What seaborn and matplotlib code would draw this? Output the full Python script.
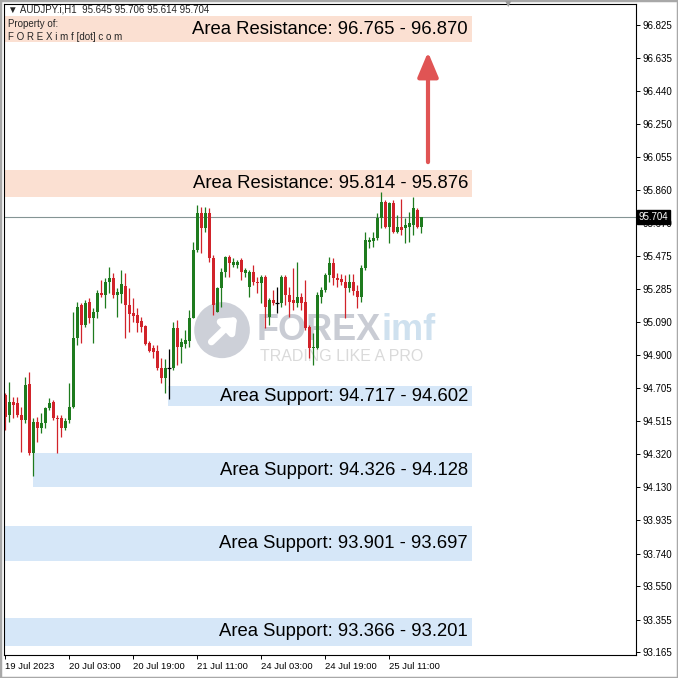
import matplotlib
matplotlib.use("Agg")
import matplotlib.pyplot as plt
import matplotlib.transforms as mtransforms
from matplotlib.patches import Ellipse, Rectangle
import pandas as pd
import seaborn as sns

header = "\u25bc AUDJPY.i,H1  95.645 95.706 95.614 95.704"
last_price = 95.704

# H1 candles, 19 Jul 2023 11:00 -> 25 Jul 2023 19:00
opens = [94.665, 94.549, 94.624, 94.619, 94.549, 94.520, 94.730, 94.327, 94.508, 94.473,
         94.502, 94.590, 94.624, 94.531, 94.531, 94.473, 94.520, 94.595, 94.998, 95.191,
         95.074, 95.208, 95.115, 95.150, 95.261, 95.249, 95.325, 95.348, 95.249, 95.255,
         95.301, 95.191, 95.144, 95.132, 95.097, 95.068, 94.969, 94.940, 94.922, 94.823,
         94.765, 94.823, 94.823, 95.056, 94.946, 94.963, 94.980, 95.115, 95.512, 95.728,
         95.640, 95.728, 95.465, 95.150, 95.290, 95.383, 95.471, 95.424, 95.424, 95.454,
         95.377, 95.296, 95.383, 95.325, 95.319, 95.354, 95.121, 95.220, 95.202, 95.202,
         95.354, 95.249, 95.220, 95.202, 95.237, 95.208, 95.062, 94.940, 94.940, 95.237,
         95.278, 95.366, 95.436, 95.348, 95.343, 95.325, 95.290, 95.325, 95.272, 95.237,
         95.407, 95.558, 95.564, 95.582, 95.699, 95.792, 95.646, 95.786, 95.617, 95.646,
         95.640, 95.646, 95.658, 95.745, 95.645]
highs = [94.677, 94.741, 94.654, 94.654, 94.595, 94.770, 94.800, 94.531, 94.537, 94.560,
         94.595, 94.648, 94.636, 94.549, 94.549, 94.531, 94.735, 95.150, 95.208, 95.202,
         95.220, 95.232, 95.173, 95.278, 95.337, 95.348, 95.412, 95.377, 95.290, 95.395,
         95.377, 95.290, 95.232, 95.173, 95.121, 95.074, 94.980, 94.957, 94.957, 94.881,
         94.875, 94.934, 95.092, 95.103, 94.998, 95.045, 95.162, 95.558, 95.774, 95.763,
         95.763, 95.757, 95.483, 95.296, 95.407, 95.477, 95.483, 95.465, 95.454, 95.465,
         95.407, 95.395, 95.424, 95.354, 95.366, 95.366, 95.232, 95.278, 95.296, 95.366,
         95.366, 95.296, 95.407, 95.442, 95.261, 95.337, 95.074, 95.027, 95.267, 95.296,
         95.377, 95.471, 95.465, 95.377, 95.372, 95.366, 95.372, 95.372, 95.307, 95.424,
         95.617, 95.588, 95.617, 95.728, 95.850, 95.804, 95.792, 95.804, 95.716, 95.810,
         95.699, 95.734, 95.821, 95.757, 95.706]
lows = [94.461, 94.508, 94.531, 94.537, 94.333, 94.502, 94.315, 94.193, 94.391, 94.444,
        94.473, 94.578, 94.520, 94.327, 94.420, 94.461, 94.502, 94.590, 94.957, 94.969,
        95.062, 95.086, 94.969, 95.115, 95.237, 95.173, 95.261, 95.232, 95.121, 95.202,
        94.998, 95.033, 95.092, 95.033, 95.033, 94.957, 94.916, 94.881, 94.811, 94.735,
        94.677, 94.642, 94.811, 94.840, 94.852, 94.940, 94.946, 95.115, 95.500, 95.494,
        95.617, 95.442, 95.132, 95.150, 95.179, 95.354, 95.354, 95.412, 95.407, 95.337,
        95.354, 95.237, 95.307, 95.261, 95.202, 95.056, 95.074, 95.191, 95.144, 95.179,
        95.191, 95.121, 95.162, 95.179, 95.162, 95.045, 94.881, 94.840, 94.934, 95.202,
        95.267, 95.325, 95.307, 95.296, 95.307, 95.115, 95.267, 95.249, 95.173, 95.208,
        95.395, 95.523, 95.529, 95.570, 95.640, 95.640, 95.553, 95.611, 95.611, 95.600,
        95.553, 95.558, 95.600, 95.640, 95.614]
closes = [94.537, 94.624, 94.607, 94.549, 94.520, 94.724, 94.327, 94.508, 94.473, 94.502,
          94.590, 94.619, 94.531, 94.525, 94.473, 94.514, 94.595, 94.998, 95.179, 95.074,
          95.202, 95.115, 95.150, 95.261, 95.249, 95.325, 95.348, 95.249, 95.267, 95.313,
          95.191, 95.138, 95.127, 95.086, 95.062, 94.963, 94.922, 94.916, 94.823, 94.765,
          94.823, 94.823, 95.056, 94.946, 94.975, 94.986, 95.115, 95.512, 95.728, 95.640,
          95.728, 95.465, 95.191, 95.290, 95.383, 95.471, 95.436, 95.442, 95.442, 95.383,
          95.395, 95.383, 95.325, 95.319, 95.354, 95.179, 95.220, 95.202, 95.202, 95.354,
          95.249, 95.208, 95.202, 95.237, 95.202, 95.056, 94.940, 94.946, 95.249, 95.278,
          95.366, 95.436, 95.348, 95.337, 95.325, 95.290, 95.325, 95.272, 95.237, 95.407,
          95.570, 95.570, 95.582, 95.699, 95.792, 95.646, 95.786, 95.617, 95.646, 95.629,
          95.658, 95.670, 95.757, 95.646, 95.704]

date_ticks = [0, 16, 32, 48, 64, 80, 96]
date_labels = ["19 Jul 2023", "20 Jul 03:00", "20 Jul 19:00", "21 Jul 11:00",
               "24 Jul 03:00", "24 Jul 19:00", "25 Jul 11:00"]

price_ticks = [96.825, 96.635, 96.440, 96.250, 96.055, 95.860, 95.670, 95.475, 95.285,
               95.090, 94.900, 94.705, 94.515, 94.320, 94.130, 93.935, 93.740, 93.550,
               93.355, 93.165]

zone_kind = ["resistance", "resistance", "support", "support", "support", "support"]
zone_low = [96.726, 95.821, 94.602, 94.128, 93.697, 93.201]
zone_high = [96.878, 95.979, 94.717, 94.326, 93.901, 93.366]
zone_start = [-0.25, -0.25, 40.75, 7, -0.25, -0.25]
zone_text = ["Area Resistance: 96.765 - 96.870", "Area Resistance: 95.814 - 95.876",
             "Area Support: 94.717 - 94.602", "Area Support: 94.326 - 94.128",
             "Area Support: 93.901 - 93.697", "Area Support: 93.366 - 93.201"]

sns.set_theme(style="white")
plt.rcParams["font.family"] = ["Liberation Sans", "DejaVu Sans"]

df = pd.DataFrame({"open": opens, "high": highs, "low": lows, "close": closes})
df["bar"] = range(len(df))
df["color"] = "#1e7b1e"
df.loc[df.close < df.open, "color"] = "#d1232a"
df.loc[df.close == df.open, "color"] = "black"
df["bottom"] = df[["open", "close"]].min(axis=1)
df["body"] = (df.close - df.open).abs()

fig = plt.figure(figsize=(6.78, 6.78), dpi=100)
ax = fig.add_axes([4 / 678, 23 / 678, 632 / 678, 651 / 678])
ax.set_xlim(-0.25, 157.75)
ax.set_ylim(93.148, 96.948)

zone_end = 116.75
zone_colors = {"resistance": "#fbe0d2", "support": "#d6e7f8"}
for kind, lo, hi, start, txt in zip(zone_kind, zone_low, zone_high, zone_start, zone_text):
    ax.add_patch(Rectangle((start, lo), zone_end - start, hi - lo,
                           facecolor=zone_colors[kind], edgecolor="none", zorder=0.5))
    ax.text(zone_end - 1, (lo + hi) / 2, txt, ha="right", va="center",
            fontsize=13.3, color="black", zorder=4)

# watermark
ax.add_patch(Ellipse((0.345, 0.499), 0.088, 0.086, transform=ax.transAxes,
                     facecolor="#cdd0d8", edgecolor="none", zorder=0.6))
ax.annotate("", xy=(0.372, 0.522), xytext=(0.325, 0.478), xycoords="axes fraction",
            arrowprops=dict(arrowstyle="-|>,head_length=0.6,head_width=0.5",
                            color="white", lw=5), zorder=0.7)
ax.text(0.400, 0.499, "FOREX", transform=ax.transAxes, fontsize=26, fontweight="bold",
        color="#c9ccd4", va="center", ha="left", zorder=0.6)
ax.text(0.597, 0.499, "imf", transform=ax.transAxes, fontsize=26, fontweight="bold",
        color="#cfe1ef", va="center", ha="left", zorder=0.6)
ax.text(0.405, 0.458, "TRADING LIKE A PRO", transform=ax.transAxes, fontsize=11.5,
        color="#dadada", va="center", ha="left", zorder=0.6)

ax.axhline(last_price, color="#849494", lw=0.8, zorder=1)

ax.vlines(df.bar, df.low, df.high, colors=df.color, lw=0.9, zorder=2)
ax.bar(df.bar, df.body, bottom=df.bottom, width=0.75, color=df.color, linewidth=0, zorder=2)
doji = df[df.body == 0]
ax.hlines(doji.close, doji.bar - 0.45, doji.bar + 0.45, colors="black", lw=0.9, zorder=2)

ax.annotate("", xy=(105.75, 96.667), xytext=(105.75, 96.025),
            arrowprops=dict(arrowstyle="-|>,head_length=1.0,head_width=0.42",
                            color="#e05454", lw=3, mutation_scale=15,
                            shrinkA=0, shrinkB=0, capstyle="round"), zorder=3)

ax.yaxis.tick_right()
ax.set_yticks(price_ticks)
ax.set_yticklabels([f"{v:.3f}" for v in price_ticks])
ax.set_xticks(date_ticks)
ax.set_xticklabels(date_labels, ha="left")
ax.tick_params(axis="y", which="both", right=True, left=False, length=3, width=0.7,
               pad=2, labelsize=7, colors="black", direction="out")
ax.tick_params(axis="x", bottom=True, length=3, width=0.7, pad=2, labelsize=6.8,
               colors="black", direction="out")
ax.grid(False)
for sp in ax.spines.values():
    sp.set_color("black")
    sp.set_linewidth(0.8)

price_tf = mtransforms.blended_transform_factory(ax.transAxes, ax.transData)
ax.text(1.004, last_price, f"{last_price:.3f}", transform=price_tf, ha="left", va="center",
        color="white", fontsize=7, zorder=5, clip_on=False,
        bbox=dict(boxstyle="square,pad=0.18", fc="black", ec="black"))

fig.text(8 / 678, 1 - 10 / 678, header, fontsize=7, va="center", ha="left",
         family=["Liberation Sans", "DejaVu Sans"])
fig.text(8 / 678, 1 - 24 / 678, "Property of:", fontsize=7, va="center", ha="left")
fig.text(8 / 678, 1 - 37 / 678, "F O R E X i m f [dot] c o m", fontsize=7,
         va="center", ha="left")
fig.text(508 / 678, 1 - 4 / 678, "\u25bc", fontsize=6, color="#9a9a9a",
         va="center", ha="center", family=["DejaVu Sans"])
fig.patches.append(Rectangle((0, 0), 1, 1, transform=fig.transFigure, fill=False,
                             edgecolor="#a8a8a8", lw=2.5))

fig.savefig("out.png", dpi=100)
